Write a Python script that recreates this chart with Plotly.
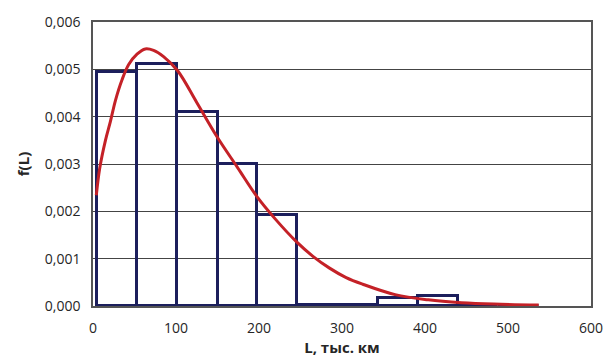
import plotly.graph_objects as go

# Histogram bins (тыс. км) and densities
bin_left = [5, 53, 101, 150, 198, 246, 295, 343, 392, 440, 488]
bin_right = [53, 101, 150, 198, 246, 295, 343, 392, 440, 488, 537]
bin_density = [0.00495, 0.00512, 0.0041, 0.00299, 0.00192, 0.00003, 0.00003, 0.00016, 0.00022, 0.000005, 0.000005]

# Fitted density curve
curve_x = [4, 8, 15, 21, 27, 35, 43, 53, 63, 73, 85, 102, 125, 150, 174, 198, 220, 245,
           265, 285, 305, 325, 364, 404, 444, 483, 537]
curve_y = [0.00234, 0.0029, 0.0035, 0.0039, 0.00434, 0.00478, 0.0051, 0.00532, 0.00543, 0.0054,
           0.00527, 0.00497, 0.0043, 0.00356, 0.00293, 0.0023, 0.00183, 0.00136,
           0.00105, 0.0008, 0.0006, 0.00046, 0.00024, 0.00013, 0.00007, 0.00004, 0.00002]

centers = [(a + b) / 2 for a, b in zip(bin_left, bin_right)]
widths = [b - a for a, b in zip(bin_left, bin_right)]

fig = go.Figure()
fig.add_trace(go.Bar(
    x=centers, y=bin_density, width=widths,
    marker=dict(color="rgba(255,255,255,0)", line=dict(color="#1c1f5c", width=3)),
    showlegend=False, hoverinfo="skip"))
fig.add_trace(go.Scatter(
    x=curve_x, y=curve_y, mode="lines",
    line=dict(color="#c42127", width=3, shape="spline", smoothing=1),
    showlegend=False))

font = "Open Sans, Liberation Sans, sans-serif"
fig.update_layout(
    width=615, height=361,
    margin=dict(l=93, r=17, t=21, b=55),
    paper_bgcolor="white", plot_bgcolor="white",
    separators=", ",
    font=dict(family=font, size=14, color="#262626"),
    bargap=0,
    xaxis=dict(range=[0, 600], dtick=100, tick0=0, showgrid=False,
               showline=True, linecolor="#555", linewidth=1.5, mirror=True,
               ticks="outside", ticklen=8, tickcolor="rgba(0,0,0,0)", zeroline=False,
               title=dict(text="<b>L, тыс. км</b>", font=dict(size=15, family=font), standoff=2)),
    yaxis=dict(range=[0, 0.006], dtick=0.001, tickformat=".3f",
               showgrid=True, gridcolor="#444", gridwidth=1,
               showline=True, linecolor="#555", linewidth=1.5, mirror=True,
               ticks="outside", ticklen=8, tickcolor="rgba(0,0,0,0)", zeroline=False,
               title=dict(text="<b>f(L)</b>", font=dict(size=15, family=font), standoff=12)),
)
fig.write_html("out.html")
